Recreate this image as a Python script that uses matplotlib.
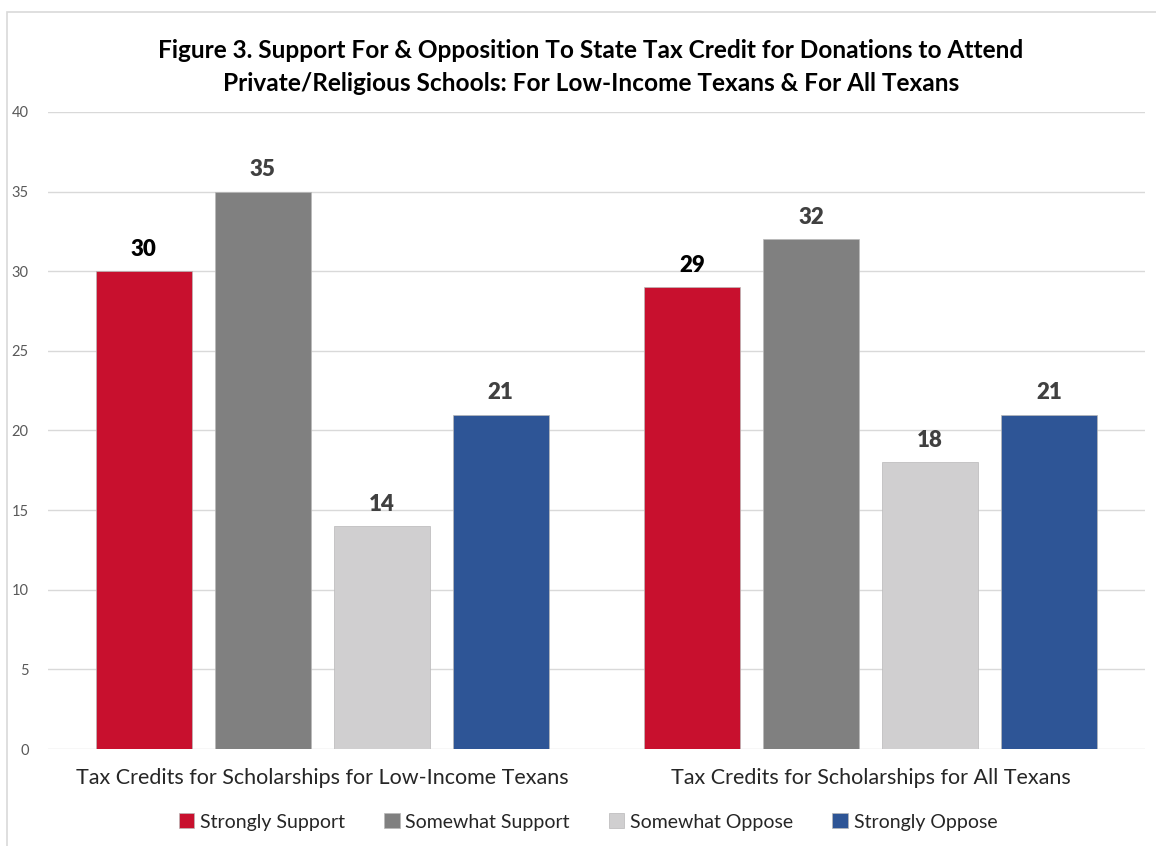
import matplotlib
matplotlib.use("Agg")
import matplotlib.pyplot as plt
import numpy as np
from matplotlib.patches import Rectangle

# Datos
categorias = ["Tax Credits for Scholarships for Low-Income Texans",
              "Tax Credits for Scholarships for All Texans"]
series = ["Strongly Support", "Somewhat Support", "Somewhat Oppose", "Strongly Oppose"]
strongly_support = [30, 29]
somewhat_support = [35, 32]
somewhat_oppose = [14, 18]
strongly_oppose = [21, 21]
valores = [strongly_support, somewhat_support, somewhat_oppose, strongly_oppose]
colores = ["#c8102e", "#808080", "#d0cfd0", "#2e5596"]
color_etiqueta = ["#000000", "#404040", "#404040", "#404040"]

plt.rcParams['font.family'] = ['Lato', 'DejaVu Sans']

fig = plt.figure(figsize=(11.56, 8.46), dpi=100)
ax = fig.add_axes([48/1156, 1 - 749/846, 1097/1156, 637/846])

x = np.arange(len(categorias))
ancho = 0.175
paso = 0.217
for i, (nombre, vals) in enumerate(zip(series, valores)):
    pos = x + (i - 1.5) * paso
    ax.bar(pos, vals, ancho, color=colores[i], label=nombre, zorder=3,
           edgecolor="#b8b8b8", linewidth=0.5)
    for xb, v in zip(pos, vals):
        ax.text(xb, v + 0.7, str(v), ha="center", va="bottom", fontsize=16,
                fontweight="heavy", color=color_etiqueta[i])

ax.set_xlim(-0.5, 1.5)
ax.set_ylim(0, 40)
ax.set_yticks(range(0, 41, 5))
ax.grid(axis="y", color="#d9d9d9", linewidth=1, zorder=0)
for s in ax.spines.values():
    s.set_visible(False)
ax.tick_params(axis="y", length=0, labelsize=10.5, labelcolor="#595959", pad=14)
ax.set_xticks(x)
ax.set_xticklabels(categorias, fontsize=15.5, color="#262626")
ax.tick_params(axis="x", length=0, pad=14)

fig.text(591/1156, 1 - 67/846, "Figure 3. Support For & Opposition To State Tax Credit for Donations to Attend\n"
         "Private/Religious Schools: For Low-Income Texans & For All Texans",
         ha="center", va="center", fontsize=17.6, fontweight="bold", color="#000000",
         linespacing=1.5)

fig.legend(loc="center", bbox_to_anchor=(588/1156, 1 - 822/846), ncol=4, frameon=False,
           fontsize=14, handlelength=0.8, handleheight=0.8, handletextpad=0.3,
           columnspacing=2.0, labelcolor="#262626")

fig.patches.append(Rectangle((7/1156, -0.01), 1.1, 1 - 12/846 + 0.01, transform=fig.transFigure,
                             fill=False, edgecolor="#d9d9d9", linewidth=1.2))

fig.savefig("out.png", dpi=100)
